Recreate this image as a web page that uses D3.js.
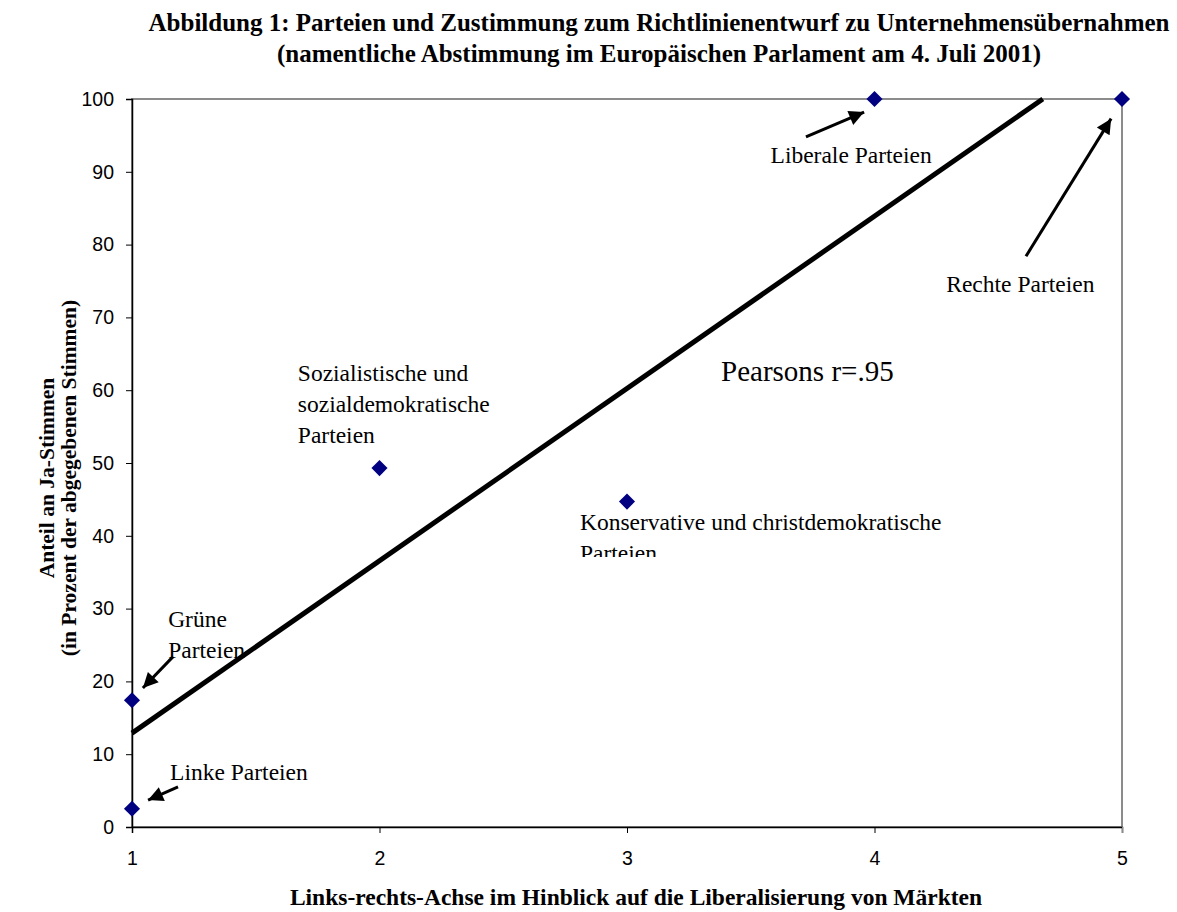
<!DOCTYPE html>
<html>
<head>
<meta charset="utf-8">
<script src="https://cdn.jsdelivr.net/npm/d3@7"></script>
<style>
  body { margin: 0; background: #fff; }
  .serif { font-family: "Liberation Serif", "Times New Roman", serif; }
  .sans { font-family: "Liberation Sans", Arial, sans-serif; }
</style>
</head>
<body>
<div id="chart"></div>
<script>
// party scores on the left-right market axis and share of yes votes
const parties = ["Linke Parteien", "Grüne Parteien", "Sozialistische und sozialdemokratische Parteien",
  "Konservative und christdemokratische Parteien", "Liberale Parteien", "Rechte Parteien"];
const axisScores = [1, 1, 2, 3, 4, 5];
const yesShares = [2.5, 17.4, 49.3, 44.7, 100, 100];

// regression line end points (as drawn in the original)
const trendX = [1, 4.68];
const trendY = [12.9, 100];

const xTicks = [1, 2, 3, 4, 5];
const yTicks = [0, 10, 20, 30, 40, 50, 60, 70, 80, 90, 100];

// annotation text: [x, y] in data units, lines
const labels = [
  { x: 3.58, y: 91.2, lines: ["Liberale Parteien"] },
  { x: 4.29, y: 73.5, lines: ["Rechte Parteien"] },
  { x: 1.67, y: 61.3, lines: ["Sozialistische und", "sozialdemokratische", "Parteien"] },
  { x: 2.81, y: 40.8, lines: ["Konservative und christdemokratische", "Parteien"], clip: true },
  { x: 1.146, y: 27.5, lines: ["Grüne", "Parteien"] },
  { x: 1.154, y: 6.5, lines: ["Linke Parteien"] }
];

// arrows: tail -> tip in data units
const arrows = [
  { x1: 3.723, y1: 94.8, x2: 3.958, y2: 98.2 },
  { x1: 4.612, y1: 78.4, x2: 4.956, y2: 97.3 },
  { x1: 1.166, y1: 23.4, x2: 1.044, y2: 19.1 },
  { x1: 1.186, y1: 5.5, x2: 1.065, y2: 3.7 }
];

const width = 1177;
const height = 912;
const margin = { top: 99, right: 55, bottom: 85, left: 132 };
const plotW = width - margin.left - margin.right;
const plotH = height - margin.top - margin.bottom;

const svg = d3.select("#chart").append("svg")
  .attr("width", width)
  .attr("height", height);

const x = d3.scaleLinear().domain([1, 5]).range([0, plotW]);
const y = d3.scaleLinear().domain([0, 100]).range([plotH, 0]);

// title
const title = svg.append("text")
  .attr("class", "serif")
  .attr("text-anchor", "middle")
  .attr("font-weight", "bold")
  .attr("font-size", 25);
title.append("tspan").attr("x", 659).attr("y", 31)
  .text("Abbildung 1: Parteien und Zustimmung zum Richtlinienentwurf zu Unternehmensübernahmen");
title.append("tspan").attr("x", 659).attr("y", 62)
  .text("(namentliche Abstimmung im Europäischen Parlament am 4. Juli 2001)");

const g = svg.append("g").attr("transform", `translate(${margin.left},${margin.top})`);

// plot frame
g.append("rect")
  .attr("width", plotW)
  .attr("height", plotH)
  .attr("fill", "none")
  .attr("stroke", "#8c8c8c")
  .attr("stroke-width", 2);

// axes
const yAxis = g.append("g")
  .attr("class", "sans")
  .call(d3.axisLeft(y).tickValues(yTicks).tickSize(6).tickPadding(12));
const xAxis = g.append("g")
  .attr("class", "sans")
  .attr("transform", `translate(0,${plotH})`)
  .call(d3.axisBottom(x).tickValues(xTicks).tickSize(6).tickPadding(18).tickFormat(d3.format("d")));

[yAxis, xAxis].forEach((a) => {
  a.select(".domain").attr("stroke", "#000").attr("stroke-width", 1.5);
  a.selectAll(".tick line").attr("stroke", "#000");
  a.selectAll(".tick text").attr("font-size", 19.5).attr("fill", "#000");
});
xAxis.select(".tick:last-of-type line").attr("stroke", "#8c8c8c");

// axis titles
svg.append("text")
  .attr("class", "serif")
  .attr("text-anchor", "middle")
  .attr("font-weight", "bold")
  .attr("font-size", 23.5)
  .attr("x", 636)
  .attr("y", 905)
  .text("Links-rechts-Achse im Hinblick auf die Liberalisierung von Märkten");

const yTitle = svg.append("text")
  .attr("class", "serif")
  .attr("text-anchor", "middle")
  .attr("font-weight", "bold")
  .attr("font-size", 21.5)
  .attr("transform", `translate(0,478) rotate(-90)`);
yTitle.append("tspan").attr("x", 0).attr("y", 54).text("Anteil an Ja-Stimmen");
yTitle.append("tspan").attr("x", 0).attr("y", 76).text("(in Prozent der abgegebenen Stimmen)");

// trend line
g.append("line")
  .attr("x1", x(trendX[0]))
  .attr("y1", y(trendY[0]))
  .attr("x2", x(trendX[1]))
  .attr("y2", y(trendY[1]))
  .attr("stroke", "#000")
  .attr("stroke-width", 5);

// arrow marker
svg.append("defs").append("marker")
  .attr("id", "head")
  .attr("viewBox", "0 0 10 10")
  .attr("refX", 10)
  .attr("refY", 5)
  .attr("markerWidth", 6.5)
  .attr("markerHeight", 5)
  .attr("markerUnits", "strokeWidth")
  .attr("orient", "auto")
  .append("path")
  .attr("d", "M0,0 L10,5 L0,10 Z")
  .attr("fill", "#000");

svg.select("defs").append("clipPath")
  .attr("id", "clipKons")
  .append("rect")
  .attr("x", 0).attr("y", 0)
  .attr("width", width).attr("height", 557);

g.selectAll(".arrow")
  .data(arrows)
  .enter()
  .append("line")
  .attr("class", "arrow")
  .attr("x1", (d) => x(d.x1))
  .attr("y1", (d) => y(d.y1))
  .attr("x2", (d) => x(d.x2))
  .attr("y2", (d) => y(d.y2))
  .attr("stroke", "#000")
  .attr("stroke-width", 3)
  .attr("marker-end", "url(#head)");

// labels
labels.forEach((l) => {
  const t = svg.append("text")
    .attr("class", "serif")
    .attr("font-size", 23.5)
    .attr("fill", "#000");
  if (l.clip) t.attr("clip-path", "url(#clipKons)");
  l.lines.forEach((line, i) => {
    t.append("tspan")
      .attr("x", margin.left + x(l.x))
      .attr("y", margin.top + y(l.y) + i * 31)
      .text(line);
  });
});

svg.append("text")
  .attr("class", "serif")
  .attr("font-size", 29)
  .attr("x", margin.left + x(3.38))
  .attr("y", margin.top + y(61.2))
  .text("Pearsons r=.95");

// data points
const diamond = d3.symbol().type(d3.symbolDiamond2).size(165);
g.selectAll(".pt")
  .data(axisScores.map((s, i) => ({ s: s, v: yesShares[i], name: parties[i] })))
  .enter()
  .append("path")
  .attr("class", "pt")
  .attr("d", diamond)
  .attr("transform", (d) => `translate(${x(d.s)},${y(d.v)})`)
  .attr("fill", "#000080");
</script>
</body>
</html>
